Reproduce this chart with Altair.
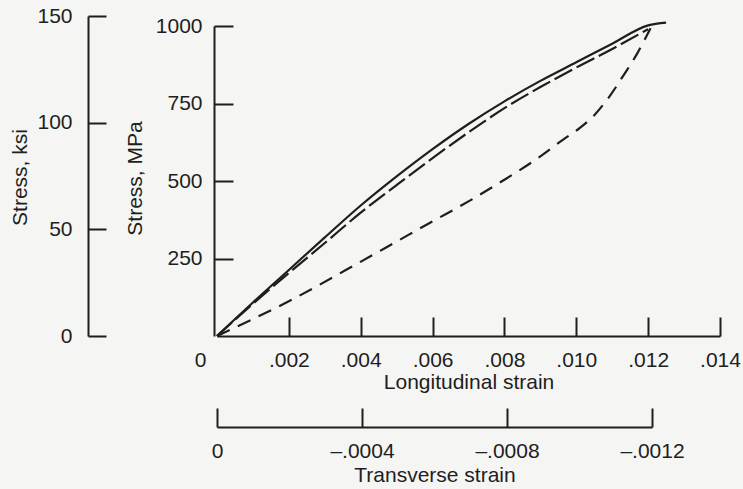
import altair as alt
import pandas as pd

# ---------------- data ----------------
# solid curve (longitudinal strain, stress in MPa)
solid_strain = [0, 0.001, 0.002, 0.003, 0.004, 0.005, 0.006, 0.007, 0.008, 0.009, 0.010, 0.011, 0.012, 0.0125]
solid_stress = [0, 108, 213, 318, 421, 515, 603, 684, 757, 823, 883, 943, 1002, 1011]

# long-dashed curve (longitudinal strain, stress in MPa)
dash_strain = [0, 0.001, 0.002, 0.003, 0.004, 0.005, 0.006, 0.007, 0.008, 0.009, 0.010, 0.011, 0.0120]
dash_stress = [0, 104, 203, 300, 398, 487, 574, 657, 735, 803, 866, 926, 990]

# short-dashed curve (transverse strain, stress in MPa)
trans_strain = [0, -0.000198, -0.000397, -0.000496, -0.000595, -0.000695, -0.000794, -0.000893,
                -0.000953, -0.001002, -0.001042, -0.001081, -0.001121, -0.001161, -0.001196]
trans_stress = [0, 112, 240, 305, 370, 435, 505, 580, 632, 672, 714, 770, 840, 915, 993]

# axis values
long_labels = [0, 0.002, 0.004, 0.006, 0.008, 0.010, 0.012, 0.014]
long_ticks = [0.002, 0.004, 0.006, 0.008, 0.010, 0.012, 0.014]
trans_values = [0, -0.0004, -0.0008, -0.0012]
mpa_values = [250, 500, 750, 1000]
ksi_values = [0, 50, 100, 150]

# ---------------- layout / style ----------------
W, H = 503, 320
INK = "#1e1e1e"
FONT = "Liberation Sans"
LBL = 21
TTL = 21

df_solid = pd.DataFrame({"strain": solid_strain, "stress": solid_stress, "i": range(len(solid_strain))})
df_dash = pd.DataFrame({"strain": dash_strain, "stress": dash_stress, "i": range(len(dash_strain))})
df_trans = pd.DataFrame({"strain": trans_strain, "stress": trans_stress, "i": range(len(trans_strain))})
df_long_ticks = pd.DataFrame({"v": long_ticks})
df_trans_ticks = pd.DataFrame({"v": trans_values})
df_mpa_ticks = pd.DataFrame({"v": mpa_values})
df_ksi = pd.DataFrame({"v": ksi_values})

x_long = alt.Scale(domain=[0, 0.014], range=[0, W], nice=False)
x_trans = alt.Scale(domain=[0, -0.0012], range=[0, 435], nice=False)
y_mpa = alt.Scale(domain=[0, 1000], range=[H, 10], nice=False)
y_ksi = alt.Scale(domain=[0, 150], range=[H, 0], nice=False)

common = dict(grid=False, labelFont=FONT, labelFontSize=LBL, labelColor=INK,
              titleFont=FONT, titleFontSize=TTL, titleFontWeight="normal", titleColor=INK,
              domainColor=INK, domainWidth=2, tickColor=INK, tickWidth=2,
              labelFlush=False, labelOverlap=False, labelBound=False)

ax_long_labels = alt.Axis(
    orient="bottom", values=long_labels, ticks=False, domain=True,
    labelExpr="datum.value == 0 ? '0' : replace(format(datum.value, '.3f'), '0.', '.')",
    labelPadding=13,
    labelOffset={"condition": {"test": "datum.value === 0", "value": -17}, "value": 0},
    title="Longitudinal strain", titleBaseline="alphabetic", titleY=52.5, **common)
ax_long_ticks = alt.Axis(orient="top", offset=-H, values=long_ticks, labels=False,
                         domain=False, ticks=True, tickSize=19, title=None, **common)

ax_trans_labels = alt.Axis(
    orient="bottom", offset=91, values=trans_values, ticks=False, domain=True,
    labelExpr="datum.value == 0 ? '0' : '\u2013' + replace(format(-datum.value, '.4f'), '0.', '.')",
    labelPadding=13, title="Transverse strain", titleBaseline="alphabetic", titleY=54, **common)
ax_trans_ticks = alt.Axis(orient="top", offset=-(H + 91), values=trans_values, labels=False,
                          domain=False, ticks=True, tickSize=19, title=None, **common)

ax_mpa_labels = alt.Axis(orient="left", offset=3, values=mpa_values, ticks=False, domain=True,
                         format="d", labelPadding=12, title="Stress, MPa",
                         titleBaseline="alphabetic", titleX=-73, titleY=162, **common)
ax_mpa_ticks = alt.Axis(orient="right", offset=-(W + 3), values=mpa_values, labels=False,
                        domain=False, ticks=True, tickSize=19, title=None, **common)

ax_ksi_labels = alt.Axis(orient="left", offset=129, values=ksi_values, ticks=False, domain=True,
                         format="d", labelPadding=16, title="Stress, ksi",
                         titleBaseline="alphabetic", titleX=-62, titleY=161, **common)
ax_ksi_ticks = alt.Axis(orient="right", offset=-(W + 129), values=ksi_values, labels=False,
                        domain=False, ticks=True, tickSize=18, title=None, **common)

solid = alt.Chart(df_solid).mark_line(color=INK, strokeWidth=2.2, interpolate="monotone").encode(
    x=alt.X("strain:Q", scale=x_long, axis=ax_long_labels),
    y=alt.Y("stress:Q", scale=y_mpa, axis=ax_mpa_labels),
    order=alt.Order("i:Q"),
)
dash = alt.Chart(df_dash).mark_line(color=INK, strokeWidth=2.2, strokeDash=[20, 5],
                                    interpolate="monotone").encode(
    x=alt.X("strain:Q", scale=x_long, axis=None),
    y=alt.Y("stress:Q", scale=y_mpa, axis=None),
    order=alt.Order("i:Q"),
)
trans = alt.Chart(df_trans).mark_line(color=INK, strokeWidth=2.2, strokeDash=[14, 9],
                                      interpolate="monotone").encode(
    x=alt.X("strain:Q", scale=x_trans, axis=ax_trans_labels),
    y=alt.Y("stress:Q", scale=y_mpa, axis=None),
    order=alt.Order("i:Q"),
)
long_ticks_layer = alt.Chart(df_long_ticks).mark_point(opacity=0).encode(
    x=alt.X("v:Q", scale=x_long, axis=ax_long_ticks))
trans_ticks_layer = alt.Chart(df_trans_ticks).mark_point(opacity=0).encode(
    x=alt.X("v:Q", scale=x_trans, axis=ax_trans_ticks))
mpa_ticks_layer = alt.Chart(df_mpa_ticks).mark_point(opacity=0).encode(
    y=alt.Y("v:Q", scale=y_mpa, axis=ax_mpa_ticks))
ksi_labels_layer = alt.Chart(df_ksi).mark_point(opacity=0).encode(
    y=alt.Y("v:Q", scale=y_ksi, axis=ax_ksi_labels))
ksi_ticks_layer = alt.Chart(df_ksi).mark_point(opacity=0).encode(
    y=alt.Y("v:Q", scale=y_ksi, axis=ax_ksi_ticks))

chart = alt.layer(
    solid, dash, trans, long_ticks_layer, trans_ticks_layer,
    mpa_ticks_layer, ksi_labels_layer, ksi_ticks_layer,
).resolve_scale(x="independent", y="independent").resolve_axis(
    x="independent", y="independent"
).properties(
    width=W, height=H,
    autosize=alt.AutoSizeParams(type="none"),
    padding={"left": 217, "top": 16, "right": 23, "bottom": 153},
    background="#f5f5f3",
).configure_view(stroke=None)

chart.save("out.html", embed_options={"renderer": "svg", "actions": False})
